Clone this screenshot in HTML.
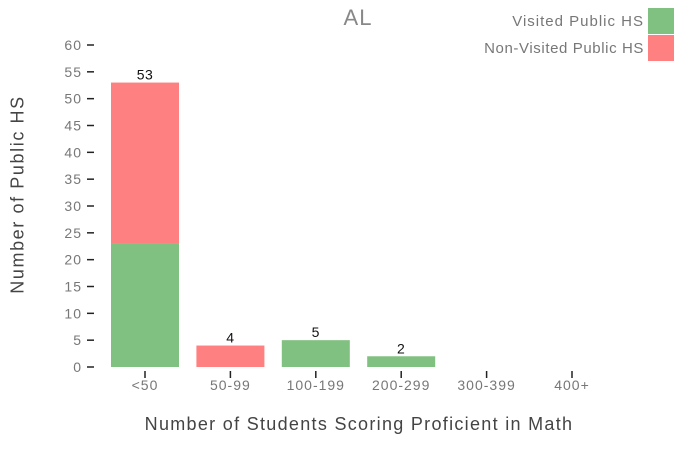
<!DOCTYPE html>
<html><head><meta charset="utf-8"><style>
html,body{margin:0;padding:0;background:#fff;}
svg{display:block;font-family:"Liberation Sans",sans-serif;}
</style></head><body>
<svg id="chart" width="700" height="450"></svg>
<script>
const categories = ["<50","50-99","100-199","200-299","300-399","400+"];
const visited = [23,0,5,2,0,0];
const nonVisited = [30,4,0,0,0,0];
const yTicks = [0,5,10,15,20,25,30,35,40,45,50,55,60];

const svg = document.getElementById('chart');
const NS = 'http://www.w3.org/2000/svg';
function mk(tag, attrs, parent){const e=document.createElementNS(NS,tag);for(const k in attrs)e.setAttribute(k,attrs[k]);(parent||svg).appendChild(e);return e;}
const y0=367, yPerUnit=(367-45)/60;
function y(v){return y0-v*yPerUnit;}
const xStart=145, step=85.4, barW=68;
function x(i){return xStart+i*step;}

yTicks.forEach(t=>{
  const l=mk('line',{x1:87,x2:94,y1:y(t),y2:y(t),stroke:'#222','stroke-width':1.5});
  
  
  const tx=mk('text',{x:82,y:y(t)+5,'text-anchor':'end','font-size':14,fill:'#777','letter-spacing':1});
  tx.textContent=t;
  
  
});

categories.forEach((c,i)=>{
  const cx=x(i);
  if(visited[i]>0){
    const r=mk('rect',{x:cx-barW/2,y:y(visited[i]),width:barW,height:y(0)-y(visited[i]),fill:'#80c080'});
    
    
  }
  if(nonVisited[i]>0){
    const r=mk('rect',{x:cx-barW/2,y:y(visited[i]+nonVisited[i]),width:barW,height:y(visited[i])-y(visited[i]+nonVisited[i]),fill:'#ff8080'});
    
    
  }
  const total=visited[i]+nonVisited[i];
  if(total>0){
    const t=mk('text',{x:cx,y:y(total)-3,'text-anchor':'middle','font-size':14,fill:'#111','letter-spacing':0.5});
    t.textContent=total;
    
    
  }
  const tm=mk('line',{x1:cx,x2:cx,y1:371,y2:378,stroke:'#222','stroke-width':1.5});
  
  
  const tl=mk('text',{x:cx,y:390,'text-anchor':'middle','font-size':14,fill:'#777','letter-spacing':1});
  tl.textContent=c;
  
  
});
</script>
<div style="position:absolute;left:0;top:0;width:700px;height:450px;pointer-events:none;font-family:'Liberation Sans',sans-serif;">
  <div style="position:absolute;left:328px;top:5px;width:60px;text-align:center;font-size:22px;color:#888;letter-spacing:1px;">AL</div>
  <div style="position:absolute;left:59px;top:414px;width:600px;text-align:center;font-size:18px;color:#444;letter-spacing:1.3px;">Number of Students Scoring Proficient in Math</div>
  <div style="position:absolute;left:-82px;top:184px;width:200px;text-align:center;font-size:18px;color:#444;letter-spacing:1.6px;transform:rotate(-90deg);">Number of Public HS</div>
  <div style="position:absolute;right:26px;top:8px;height:26px;display:flex;align-items:center;">
    <span style="font-size:15px;color:#777;margin-right:4px;letter-spacing:1px;">Visited Public HS</span>
    <span style="display:inline-block;width:26px;height:26px;background:#80c080;"></span>
  </div>
  <div style="position:absolute;right:26px;top:35px;height:26px;display:flex;align-items:center;">
    <span style="font-size:15px;color:#777;margin-right:4px;letter-spacing:0.6px;">Non-Visited Public HS</span>
    <span style="display:inline-block;width:26px;height:26px;background:#ff8080;"></span>
  </div>
</div>
</body></html>
